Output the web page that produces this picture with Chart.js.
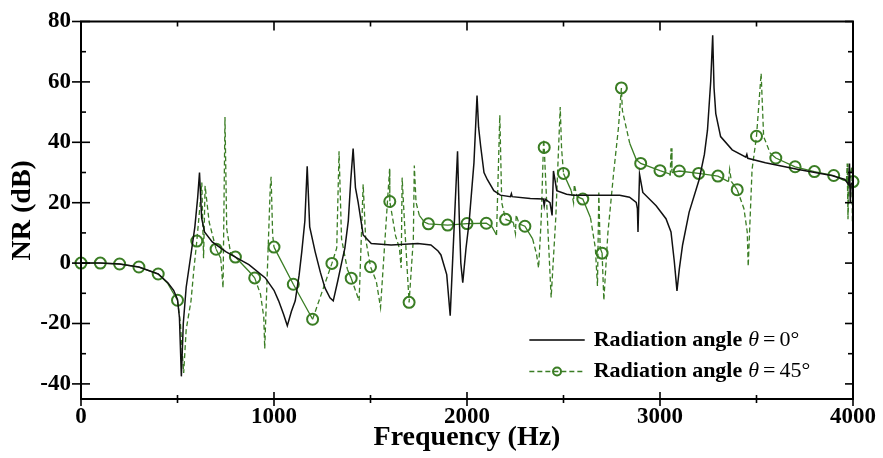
<!DOCTYPE html>
<html>
<head>
<meta charset="utf-8">
<script src="https://cdn.jsdelivr.net/npm/chart.js@4.4.0/dist/chart.umd.min.js"></script>
<style>
html,body{margin:0;padding:0;background:#fff}
#wrap{width:883px;height:458px;position:relative}
</style>
</head>
<body>
<div id="wrap"><canvas id="c"></canvas></div>
<script>
// radiation angle 0 deg (black solid)
const freq0 = [0,100,200,300,400,450,480,500,510,520,530,545,570,590,605,614,625,640,680,750,800,870,955,1000,1024,1050,1069,1090,1110,1130,1144,1160,1172,1185,1213,1240,1264,1290,1307,1330,1350,1367,1385,1398,1410,1422,1436,1462,1504,1607,1745,1813,1850,1865,1895,1913,1925,1933,1951,1960,1968,1978,1995,2011,2036,2052,2060,2071,2088,2105,2139,2173,2225,2230,2234,2328,2395,2400,2405,2430,2441,2448,2465,2516,2551,2671,2791,2842,2877,2883,2886,2890,2894,2911,2980,3031,3057,3074,3088,3100,3117,3151,3203,3230,3246,3263,3273,3280,3289,3314,3374,3445,3450,3455,3546,3717,3889,3958,3978,3982,3986,3990,4000]
const nr0 = [0,0,-0.3,-1.3,-3.6,-6.5,-9,-12,-18,-37.5,-20,-8,3,12,22,30,15,10.3,7,3.8,2,-0.5,-4.9,-9,-12.5,-17,-20.7,-16,-12.5,-4,3.8,14,32.1,12,3.8,-3,-8.2,-11.5,-12.5,-6,0,4.9,14,27.7,37.9,25,20.1,9.3,6.5,6,6.5,6,4,2.7,-3.8,-17.4,0,11.4,37,15,0,-6.5,5,13.6,33.2,55.5,45,38.6,30,27.7,24,22.5,22,23,22,21.4,21.2,19,21.2,20,15.8,30.5,24,22.8,22.5,22.5,22.5,21.8,20.1,18,10.3,20,29.4,23.4,19,14.7,10.3,0.6,-9.2,-2,6,16.9,27.7,36,44,60.4,75.4,58,49.5,41.9,37.5,35.1,36,34.7,33.2,31,29,27.7,26,33,20,26,27]

// radiation angle 45 deg (green dashed, circles every 100 Hz)
const freq45 = [0,100,200,300,400,450,500,515,532,545,570,585,600,615,626,635,643,664,700,724,736,746,755,775,800,870,900,930,947,952,969,981,985,993,1000,1100,1200,1300,1325,1337,1350,1380,1400,1441,1462,1475,1500,1530,1552,1599,1600,1630,1650,1659,1664,1676,1690,1700,1722,1727,1736,1753,1779,1800,1900,2000,2100,2130,2153,2170,2180,2200,2240,2251,2255,2270,2300,2340,2360,2371,2385,2397,2400,2420,2436,2460,2483,2490,2500,2540,2552,2556,2570,2600,2640,2665,2676,2683,2690,2700,2709,2730,2760,2785,2800,2805,2843,2877,2900,3000,3050,3053,3057,3062,3100,3200,3300,3355,3361,3370,3400,3435,3452,3457,3477,3500,3524,3537,3571,3600,3700,3800,3900,3950,3966,3970,3974,3980,3994,3997,4000]
const nr45 = [0,0,-0.3,-1.3,-3.6,-6.8,-12.3,-20,-36.4,-22,-12.5,-2,7.3,18,26.7,1.6,25.6,13.6,4.6,1.6,-8.2,48.4,11.4,3.3,2,-2.7,-4.9,-10.3,-17.9,-28.3,3.8,25.6,28.6,9.3,5.3,-7,-18.6,-0.1,5,37,8,-2,-5,-12.5,26.1,8,-1.2,-6,-14.7,31.2,20.4,9,4.9,-1.6,28.3,13.6,-2,-13,8,32.3,20.1,15.8,13.6,13,12.6,13.1,13.2,12,9.3,49,20,14.5,13.5,9.8,16,13,12.2,8,3,-1.6,15,41,38.3,10,-11.4,15,51.7,38,29.7,24,20,26,22,21.2,15,5,-7.6,23.4,5,3.3,-12.3,10,30,45,58,50.6,39.7,34.3,33,30.6,29.5,29,38,30,30.5,29.7,28.8,27,31,27,24.3,18,10.3,-1.1,31,42,62.8,41.9,36.4,34.8,31.9,30.3,29,27.5,27.2,33,14.5,27,32,13.5,27]

const xTicks = [0,1000,2000,3000,4000]
const xMinor = [500,1500,2500,3500]
const yTicks = [-40,-20,0,20,40,60,80]
const yMinor = [-30,-10,10,30,50,70]
const seriesNames = ['0°','45°']

const GREEN = '#3a7d24'
const SERIF = '"Liberation Serif","Times New Roman",serif'

const toPts = (xs,ys) => xs.map((x,i)=>({x, y:ys[i]}))

// steep segments drawn dashed, gentle ones solid (like the original plot)
const steepDash = ctx => {
  const dx = Math.abs(ctx.p1.x-ctx.p0.x), dy = Math.abs(ctx.p1.y-ctx.p0.y)
  return (dy > 2.5*dx && dy > 8) ? [5,3] : undefined
}

const frame = {
  id:'frame',
  afterDatasetsDraw(chart) {
    const {ctx, chartArea:a, scales:{x,y}} = chart
    ctx.save()
    ctx.strokeStyle = '#000'
    ctx.lineWidth = 2
    ctx.strokeRect(a.left,a.top,a.right-a.left,a.bottom-a.top)
    ctx.lineWidth = 1.6
    const seg = (x1,y1,x2,y2) => { ctx.beginPath(); ctx.moveTo(x1,y1); ctx.lineTo(x2,y2); ctx.stroke() }
    xTicks.forEach(v=>{ const p=x.getPixelForValue(v); seg(p,a.bottom-7,p,a.bottom+7); seg(p,a.top,p,a.top+9) })
    xMinor.forEach(v=>{ const p=x.getPixelForValue(v); seg(p,a.bottom-4,p,a.bottom+4); seg(p,a.top,p,a.top+5) })
    yTicks.forEach(v=>{ const p=y.getPixelForValue(v); seg(a.left-9,p,a.left+9,p); seg(a.right-8,p,a.right,p) })
    yMinor.forEach(v=>{ const p=y.getPixelForValue(v); seg(a.left,p,a.left+5,p); seg(a.right-5,p,a.right,p) })
    ctx.restore()
  }
}

const legend = {
  id:'legendBox',
  afterDraw(chart) {
    const {ctx, scales:{x,y}} = chart
    const x0 = x.getPixelForValue(2323), x1 = x.getPixelForValue(2610)
    const rows = [y.getPixelForValue(-25.5), y.getPixelForValue(-35.9)]
    ctx.save()
    rows.forEach((ry,i)=>{
      ctx.beginPath(); ctx.moveTo(x0,ry); ctx.lineTo(x1,ry)
      if (i===0) { ctx.strokeStyle='#000'; ctx.lineWidth=1.5; ctx.setLineDash([]) }
      else { ctx.strokeStyle=GREEN; ctx.lineWidth=1.3; ctx.setLineDash([5,3]) }
      ctx.stroke()
      ctx.setLineDash([])
      if (i===1) {
        ctx.beginPath(); ctx.arc((x0+x1)/2,ry,4,0,Math.PI*2)
        ctx.lineWidth=2; ctx.stroke()
      }
      ctx.fillStyle='#000'; ctx.textBaseline='middle'; ctx.textAlign='left'
      let tx = x1+9
      const parts = [['bold 22px '+SERIF,'Radiation angle',6],['italic 22px '+SERIF,'θ',4],['22px '+SERIF,'=',4],['22px '+SERIF,seriesNames[i],0]]
      parts.forEach(([f,t,gap])=>{ ctx.font=f; ctx.fillText(t,tx,ry); tx += ctx.measureText(t).width + gap })
    })
    ctx.restore()
  }
}

new Chart(document.getElementById('c'), {
  type:'line',
  data:{
    datasets:[
      { label:'Radiation angle θ=0°', data:toPts(freq0,nr0), borderColor:'#111', borderWidth:1.5,
        pointRadius:0, tension:0, fill:false },
      { label:'Radiation angle θ=45°', data:toPts(freq45,nr45), borderColor:GREEN, borderWidth:1.3,
        pointRadius:ctx => (ctx.raw && ctx.raw.x % 100 === 0) ? 5.5 : 0,
        pointBorderWidth:2, pointBorderColor:GREEN, pointBackgroundColor:'rgba(0,0,0,0)',
        segment:{ borderDash:steepDash }, borderDash:[], tension:0, fill:false, clip:false }
    ]
  },
  options:{
    responsive:true, maintainAspectRatio:false, animation:false, events:[],
    layout:{ padding:{ top:16, right:25, left:0, bottom:0 } },
    plugins:{ legend:{display:false}, tooltip:{enabled:false} },
    scales:{
      x:{ type:'linear', min:0, max:4000,
        afterBuildTicks: s => { s.ticks = xTicks.map(v=>({value:v})) },
        afterFit: s => { s.height = 59 },
        grid:{ display:false, drawTicks:false }, border:{ display:false },
        ticks:{ color:'#000', padding:7, maxRotation:0, callback: v => String(v),
          font:{ family:SERIF, size:23, weight:'bold', lineHeight:1 } },
        title:{ display:true, text:'Frequency (Hz)', color:'#000', padding:{ top:0, bottom:3 },
          font:{ family:SERIF, size:28, weight:'bold', lineHeight:1.2 } } },
      y:{ min:-45, max:80,
        afterBuildTicks: s => { s.ticks = yTicks.map(v=>({value:v})) },
        afterFit: s => { s.width = 81 },
        grid:{ display:false, drawTicks:false }, border:{ display:false },
        ticks:{ color:'#000', padding:10, callback: v => String(v),
          font:{ family:SERIF, size:23, weight:'bold', lineHeight:1 } },
        title:{ display:true, text:'NR (dB)', color:'#000', padding:{ top:6, bottom:0 },
          font:{ family:SERIF, size:28, weight:'bold', lineHeight:1.2 } } }
    }
  },
  plugins:[frame, legend]
})
</script>
</body>
</html>
